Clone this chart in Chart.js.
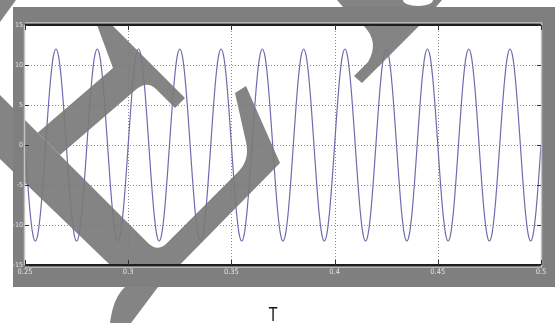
<!DOCTYPE html>
<html>
<head>
<meta charset="utf-8">
<script src="https://cdn.jsdelivr.net/npm/chart.js@4.4.1/dist/chart.umd.min.js"></script>
<style>
html,body{margin:0;padding:0;background:#fff;}
#c{display:block;}
</style>
</head>
<body>
<canvas id="c" width="555" height="323"></canvas>
<script>
// ---- data ----
const sampleStart = 0.25;      // s, first sample time
const sampleStep = 0.00125;    // s, sample spacing
const signal = [
0,-4.6,-8.5,-11.1,-12,-11.1,-8.5,-4.6,0,4.6,8.5,11.1,12,11.1,8.5,4.6,
0,-4.6,-8.5,-11.1,-12,-11.1,-8.5,-4.6,0,4.6,8.5,11.1,12,11.1,8.5,4.6,
0,-4.6,-8.5,-11.1,-12,-11.1,-8.5,-4.6,0,4.6,8.5,11.1,12,11.1,8.5,4.6,
0,-4.6,-8.5,-11.1,-12,-11.1,-8.5,-4.6,0,4.6,8.5,11.1,12,11.1,8.5,4.6,
0,-4.6,-8.5,-11.1,-12,-11.1,-8.5,-4.6,0,4.6,8.5,11.1,12,11.1,8.5,4.6,
0,-4.6,-8.5,-11.1,-12,-11.1,-8.5,-4.6,0,4.6,8.5,11.1,12,11.1,8.5,4.6,
0,-4.6,-8.5,-11.1,-12,-11.1,-8.5,-4.6,0,4.6,8.5,11.1,12,11.1,8.5,4.6,
0,-4.6,-8.5,-11.1,-12,-11.1,-8.5,-4.6,0,4.6,8.5,11.1,12,11.1,8.5,4.6,
0,-4.6,-8.5,-11.1,-12,-11.1,-8.5,-4.6,0,4.6,8.5,11.1,12,11.1,8.5,4.6,
0,-4.6,-8.5,-11.1,-12,-11.1,-8.5,-4.6,0,4.6,8.5,11.1,12,11.1,8.5,4.6,
0,-4.6,-8.5,-11.1,-12,-11.1,-8.5,-4.6,0,4.6,8.5,11.1,12,11.1,8.5,4.6,
0,-4.6,-8.5,-11.1,-12,-11.1,-8.5,-4.6,0,4.6,8.5,11.1,12,11.1,8.5,4.6,
0,-4.6,-8.5,-11.1,-12,-11.1,-8.5,-4.6,
0
];
const xTickValues = [0.25, 0.3, 0.35, 0.4, 0.45, 0.5];
const xTickLabels = ['0.25', '0.3', '0.35', '0.4', '0.45', '0.5'];
const yTickValues = [-15, -10, -5, 0, 5, 10, 15];
const yTickLabels = ['-15', '-10', '-5', '0', '5', '10', '15'];
const xAxisTitle = 'T';

const points = signal.map((v, i) => ({x: sampleStart + i * sampleStep, y: v}));

const FIG = {l: 13, t: 7, r: 555, b: 287};
const BG = '#7f7f7f';
const labelFont = '"Liberation Sans Narrow", "DejaVu Sans Condensed", "Liberation Sans", sans-serif';

const framePlugin = {
  id: 'frame',
  beforeDraw(chart) {
    const ctx = chart.ctx, a = chart.chartArea;
    ctx.save();
    ctx.fillStyle = '#ffffff';
    ctx.fillRect(0, 0, chart.width, chart.height);
    ctx.fillStyle = BG;
    ctx.fillRect(FIG.l, FIG.t, FIG.r - FIG.l, FIG.b - FIG.t);
    ctx.fillStyle = '#ffffff';
    ctx.fillRect(a.left, a.top, a.right - a.left, a.bottom - a.top);
    ctx.restore();
  },
  beforeDatasetsDraw(chart) {
    const ctx = chart.ctx, a = chart.chartArea;
    const xs = chart.scales.x, ys = chart.scales.y;
    ctx.save();
    ctx.strokeStyle = '#8c8c8c';
    ctx.lineWidth = 1;
    ctx.setLineDash([1, 2]);
    xTickValues.forEach(v => {
      if (v === xTickValues[0] || v === xTickValues[xTickValues.length - 1]) return;
      const px = Math.round(xs.getPixelForValue(v)) + 0.5;
      ctx.beginPath(); ctx.moveTo(px, a.top); ctx.lineTo(px, a.bottom); ctx.stroke();
    });
    yTickValues.forEach(v => {
      if (v === yTickValues[0] || v === yTickValues[yTickValues.length - 1]) return;
      const py = Math.round(ys.getPixelForValue(v)) + 0.5;
      ctx.beginPath(); ctx.moveTo(a.left, py); ctx.lineTo(a.right, py); ctx.stroke();
    });
    ctx.restore();
  },
  afterDraw(chart) {
    const ctx = chart.ctx, a = chart.chartArea;
    const xs = chart.scales.x, ys = chart.scales.y;
    // watermark overlay
    ctx.save();
    ctx.beginPath();
    ctx.rect(0, 0, chart.width, chart.height);
    ctx.rect(FIG.l, FIG.t, FIG.r - FIG.l, FIG.b - FIG.t);
    ctx.rect(a.left, a.top, a.right - a.left, a.bottom - a.top);
    ctx.clip('evenodd');
    ctx.fillStyle = 'rgba(122,122,122,0.92)';
    ctx.beginPath();
    ctx.moveTo(0, 95); ctx.lineTo(148, 243); ctx.quadraticCurveTo(157, 252, 166, 244);
    ctx.lineTo(238, 172); ctx.quadraticCurveTo(250, 160, 246, 142);
    ctx.lineTo(235, 93); ctx.lineTo(246, 86); ctx.lineTo(280, 163);
    ctx.lineTo(158, 287); ctx.lineTo(133, 287); ctx.lineTo(0, 159); ctx.closePath();
    ctx.fill();
    ctx.beginPath();
    ctx.moveTo(37.7, 132.7); ctx.lineTo(113, 68); ctx.lineTo(97, 25); ctx.lineTo(112, 25);
    ctx.lineTo(185, 98); ctx.lineTo(175, 108); ctx.lineTo(156, 89);
    ctx.quadraticCurveTo(147, 80, 136, 89.6); ctx.lineTo(60, 155); ctx.closePath();
    ctx.fill();
    ctx.beginPath();
    ctx.moveTo(363, 25); ctx.quadraticCurveTo(380, 42, 368, 62); ctx.lineTo(354, 76);
    ctx.lineTo(362, 83); ctx.lineTo(420, 25); ctx.closePath();
    ctx.fill();
    ctx.beginPath();
    ctx.moveTo(125, 287); ctx.lineTo(158, 287); ctx.lineTo(131, 323); ctx.lineTo(110, 323);
    ctx.quadraticCurveTo(113, 298, 125, 287); ctx.closePath();
    ctx.fill();
    ctx.beginPath();
    ctx.moveTo(0, 0); ctx.lineTo(16, 0); ctx.lineTo(0, 22); ctx.closePath();
    ctx.fill();
    ctx.beginPath();
    ctx.moveTo(337, 0); ctx.lineTo(442, 0); ctx.lineTo(436, 7); ctx.lineTo(343, 7); ctx.closePath();
    ctx.fill();
    ctx.fillStyle = '#ffffff';
    ctx.beginPath();
    ctx.ellipse(418, 0, 15, 6, 0, 0, Math.PI);
    ctx.fill();
    ctx.restore();

    // axes box
    ctx.save();
    ctx.lineWidth = 1.5;
    ctx.strokeStyle = '#c4c4c4';
    ctx.beginPath(); ctx.moveTo(a.left - 0.5, a.top); ctx.lineTo(a.left - 0.5, a.bottom); ctx.stroke();
    ctx.beginPath(); ctx.moveTo(a.right + 0.5, a.top - 2); ctx.lineTo(a.right + 0.5, a.bottom + 2); ctx.stroke();
    ctx.lineWidth = 1;
    ctx.strokeStyle = '#b8b8b8';
    ctx.beginPath(); ctx.moveTo(a.left, a.top - 2.5); ctx.lineTo(a.right + 1, a.top - 2.5); ctx.stroke();
    ctx.beginPath(); ctx.moveTo(a.left, a.bottom + 2.5); ctx.lineTo(a.right + 1, a.bottom + 2.5); ctx.stroke();
    ctx.lineWidth = 2;
    ctx.strokeStyle = '#1e1e1e';
    ctx.beginPath(); ctx.moveTo(a.left, a.top); ctx.lineTo(a.right, a.top); ctx.stroke();
    ctx.beginPath(); ctx.moveTo(a.left, a.bottom); ctx.lineTo(a.right, a.bottom); ctx.stroke();
    // tick marks
    ctx.lineWidth = 1;
    ctx.strokeStyle = '#333333';
    xTickValues.forEach(v => {
      const px = Math.round(xs.getPixelForValue(v)) + 0.5;
      ctx.beginPath(); ctx.moveTo(px, a.bottom); ctx.lineTo(px, a.bottom - 5); ctx.stroke();
      ctx.beginPath(); ctx.moveTo(px, a.top); ctx.lineTo(px, a.top + 5); ctx.stroke();
    });
    yTickValues.forEach(v => {
      const py = Math.round(ys.getPixelForValue(v)) + 0.5;
      ctx.beginPath(); ctx.moveTo(a.left, py); ctx.lineTo(a.left + 4, py); ctx.stroke();
      ctx.beginPath(); ctx.moveTo(a.right, py); ctx.lineTo(a.right - 4, py); ctx.stroke();
    });
    // axis title
    ctx.fillStyle = '#111111';
    ctx.font = '15px "Liberation Sans", Arial, sans-serif';
    ctx.textAlign = 'center';
    ctx.textBaseline = 'alphabetic';
    ctx.translate(273, 321);
    ctx.scale(1, 1.3);
    ctx.fillText(xAxisTitle, 0, 0);
    ctx.restore();
  }
};

new Chart(document.getElementById('c'), {
  type: 'line',
  data: {
    datasets: [{
      data: points,
      borderColor: '#6c6cae',
      borderWidth: 1.2,
      pointRadius: 0,
      cubicInterpolationMode: 'monotone',
      fill: false
    }]
  },
  options: {
    responsive: false,
    animation: false,
    devicePixelRatio: 1,
    layout: {padding: {left: 0, top: 25, right: 14, bottom: 46}},
    plugins: {legend: {display: false}, tooltip: {enabled: false}, title: {display: false}},
    scales: {
      x: {
        type: 'linear', min: 0.25, max: 0.5,
        afterFit(s) { s.height = 12; },
        afterBuildTicks(s) { s.ticks = xTickValues.map(v => ({value: v})); },
        ticks: {
          autoSkip: false, maxRotation: 0, padding: 3,
          color: '#e4e4e4', font: {family: labelFont, size: 7.5},
          callback: (v) => { const i = xTickValues.findIndex(t => Math.abs(t - v) < 1e-9); return i >= 0 ? xTickLabels[i] : ''; }
        },
        grid: {display: false, drawTicks: false, tickLength: 0},
        border: {display: false}
      },
      y: {
        type: 'linear', min: -15, max: 15,
        afterFit(s) { s.width = 25; },
        afterBuildTicks(s) { s.ticks = yTickValues.map(v => ({value: v})); },
        ticks: {
          autoSkip: false, padding: 2,
          color: '#e4e4e4', font: {family: labelFont, size: 7},
          callback: (v) => { const i = yTickValues.indexOf(v); return i >= 0 ? yTickLabels[i] : ''; }
        },
        grid: {display: false, drawTicks: false, tickLength: 0},
        border: {display: false}
      }
    }
  },
  plugins: [framePlugin]
});
</script>
</body>
</html>
